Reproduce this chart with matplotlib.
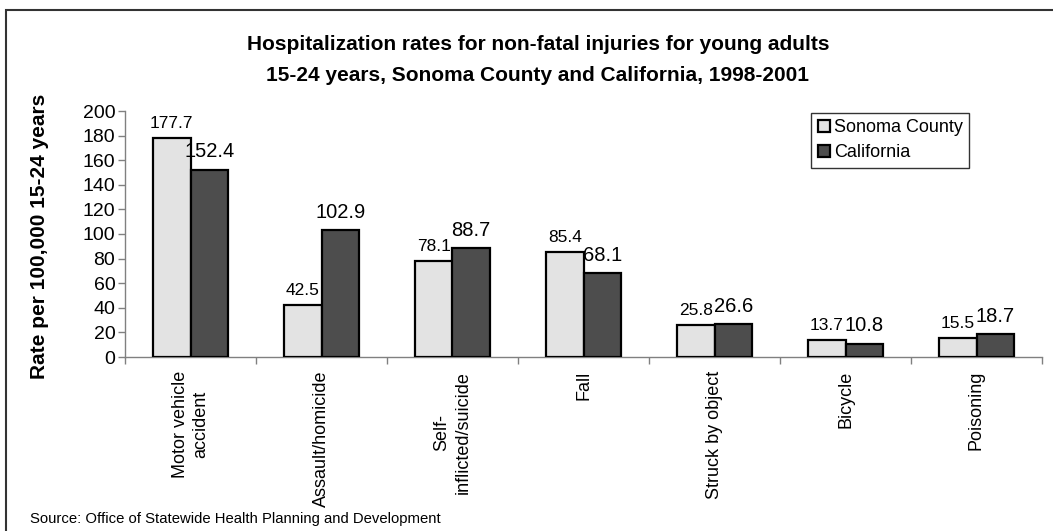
import numpy as np
import matplotlib
matplotlib.use("Agg")
import matplotlib.pyplot as plt
from matplotlib.patches import Rectangle

plt.rcParams['font.family'] = ['Liberation Sans', 'DejaVu Sans']

categories = ["Motor vehicle\naccident", "Assault/homicide", "Self-\ninflicted/suicide",
              "Fall", "Struck by object", "Bicycle", "Poisoning"]
sonoma = [177.7, 42.5, 78.1, 85.4, 25.8, 13.7, 15.5]
california = [152.4, 102.9, 88.7, 68.1, 26.6, 10.8, 18.7]
yticks = [0, 20, 40, 60, 80, 100, 120, 140, 160, 180, 200]

W, H = 1053, 531
fig = plt.figure(figsize=(W / 100, H / 100), dpi=100)
ax = fig.add_axes([125 / W, 1 - 357 / H, (1042 - 125) / W, (357 - 111) / H])

x = np.arange(len(categories))
w = 0.286
light, dark = '#e3e3e3', '#4d4d4d'
ax.bar(x - w / 2, sonoma, w, color=light, edgecolor='black', linewidth=1.6,
       label='Sonoma County', zorder=3)
ax.bar(x + w / 2, california, w, color=dark, edgecolor='black', linewidth=1.6,
       label='California', zorder=3)

# value labels (Sonoma drawn a bit smaller than California, as in the original)
for xi, v in zip(x - w / 2, sonoma):
    ax.annotate(f"{v:.1f}", (xi, v), xytext=(0, 5), textcoords='offset points',
                ha='center', va='bottom', fontsize=12.5)
for xi, v in zip(x + w / 2, california):
    ax.annotate(f"{v:.1f}", (xi, v), xytext=(0, 6), textcoords='offset points',
                ha='center', va='bottom', fontsize=14.5)

ax.set_xlim(-0.5, len(categories) - 0.5)
ax.set_ylim(0, 200)
ax.set_yticks(yticks)
ax.tick_params(axis='y', labelsize=14, length=5, width=1, color='#808080', pad=2)

ax.set_xticks(x)
ax.set_xticklabels(categories, rotation=90, fontsize=13, ha='center', va='top',
                   multialignment='center', linespacing=1.3)
ax.tick_params(axis='x', which='major', length=0, pad=10)
ax.set_xticks(np.arange(len(categories) + 1) - 0.5, minor=True)
ax.tick_params(axis='x', which='minor', length=5, width=1, color='#808080')

for side in ('top', 'right'):
    ax.spines[side].set_visible(False)
for side in ('left', 'bottom'):
    ax.spines[side].set_color('#808080')
    ax.spines[side].set_linewidth(1)

leg = ax.legend(loc='upper right', bbox_to_anchor=(969 / W, 1 - 113 / H),
                bbox_transform=fig.transFigure, borderaxespad=0, fontsize=13,
                fancybox=False, frameon=True, handlelength=0.7, handleheight=0.7,
                handletextpad=0.2, labelspacing=0.45, borderpad=0.35)
leg.get_frame().set_edgecolor('black')
leg.get_frame().set_linewidth(1)

fig.text(538 / W, 1 - 60 / H,
         "Hospitalization rates for non-fatal injuries for young adults\n"
         "15-24 years, Sonoma County and California, 1998-2001",
         ha='center', va='center', fontsize=15, fontweight='bold', linespacing=1.75)
fig.text(40 / W, 1 - 236 / H, "Rate per 100,000 15-24 years", rotation=90,
         ha='center', va='center', fontsize=15, fontweight='bold')
fig.text(30 / W, 1 - 519 / H, "Source: Office of Statewide Health Planning and Development",
         ha='left', va='center', fontsize=10.7)

# outer frame (right and bottom sides fall outside the picture)
fig.patches.append(Rectangle((6 / W, -0.1), 1.2, 1 - 10 / H + 0.1,
                             transform=fig.transFigure, fill=False,
                             edgecolor='#333333', linewidth=1.5))

fig.savefig('out.png', dpi=100)
